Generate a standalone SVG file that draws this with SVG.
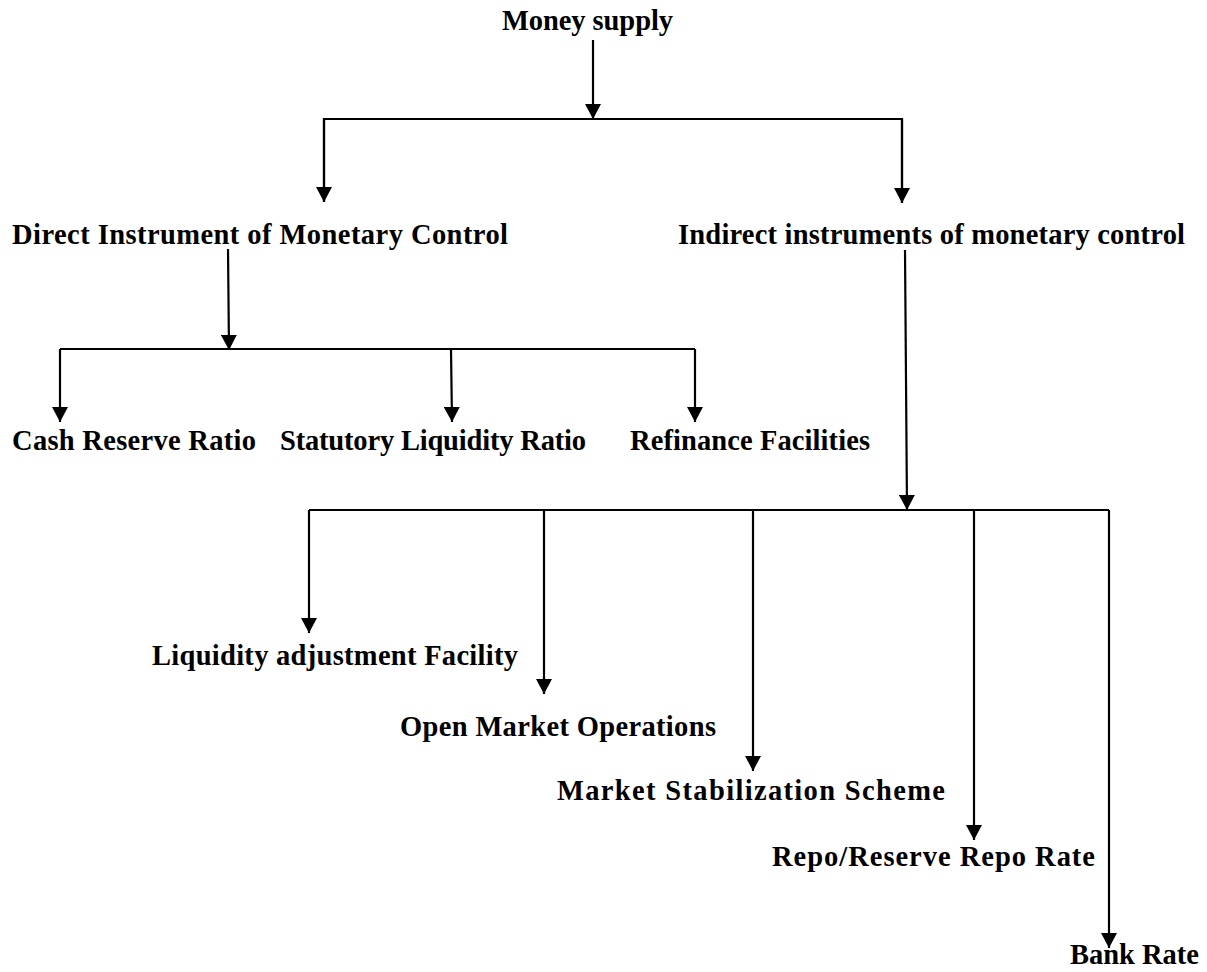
<svg xmlns="http://www.w3.org/2000/svg" width="1207" height="972" viewBox="0 0 1207 972">
<style>
text{font-family:"Liberation Serif","Times New Roman",serif;font-weight:bold;font-size:28.5px;fill:#000}
.c line,.c polyline{stroke:#000;stroke-width:2.2;fill:none}
</style>
<defs>
<marker id="ah" markerUnits="userSpaceOnUse" markerWidth="16" markerHeight="16" refX="15" refY="8" orient="auto" viewBox="0 0 16 16">
<path d="M0,0 L15,8 L0,16 z" fill="#000"/>
</marker>
</defs>
<rect width="1207" height="972" fill="#fff"/>
<g class="c" id="connectors">
<line x1="593" y1="40" x2="593" y2="119" marker-end="url(#ah)"/>
<polyline points="324,202 324,119 902,119 902,203"/>
<line x1="324" y1="119" x2="324" y2="202" marker-end="url(#ah)"/>
<line x1="902" y1="119" x2="902" y2="203" marker-end="url(#ah)"/>
<line x1="228" y1="249" x2="229" y2="350" marker-end="url(#ah)"/>
<polyline points="60,349 695,349"/>
<line x1="60" y1="349" x2="60" y2="422" marker-end="url(#ah)"/>
<line x1="451" y1="349" x2="452" y2="422" marker-end="url(#ah)"/>
<line x1="695" y1="349" x2="695" y2="422" marker-end="url(#ah)"/>
<line x1="905" y1="250" x2="907" y2="510" marker-end="url(#ah)"/>
<polyline points="309,510 1109,510"/>
<line x1="309" y1="510" x2="309" y2="633" marker-end="url(#ah)"/>
<line x1="544" y1="510" x2="544" y2="694" marker-end="url(#ah)"/>
<line x1="753" y1="510" x2="753" y2="771" marker-end="url(#ah)"/>
<line x1="974" y1="510" x2="974" y2="840" marker-end="url(#ah)"/>
<line x1="1109" y1="510" x2="1109" y2="948" marker-end="url(#ah)"/>
</g>
<g id="money-supply"><text x="502" y="30" textLength="171">Money supply</text></g>
<g id="direct"><text x="12" y="244" textLength="496">Direct Instrument of Monetary Control</text></g>
<g id="indirect"><text x="678" y="244" textLength="507">Indirect instruments of monetary control</text></g>
<g id="crr"><text x="12" y="450" textLength="244">Cash Reserve Ratio</text></g>
<g id="slr"><text x="280" y="450" textLength="306">Statutory Liquidity Ratio</text></g>
<g id="refinance"><text x="630" y="450" textLength="240">Refinance Facilities</text></g>
<g id="laf"><text x="152" y="665" textLength="366">Liquidity adjustment Facility</text></g>
<g id="omo"><text x="400" y="736" textLength="316">Open Market Operations</text></g>
<g id="mss"><text x="557" y="800" textLength="388">Market Stabilization Scheme</text></g>
<g id="repo"><text x="772" y="866" textLength="323">Repo/Reserve Repo Rate</text></g>
<g id="bank"><text x="1070" y="964" textLength="129">Bank Rate</text></g>
</svg>
